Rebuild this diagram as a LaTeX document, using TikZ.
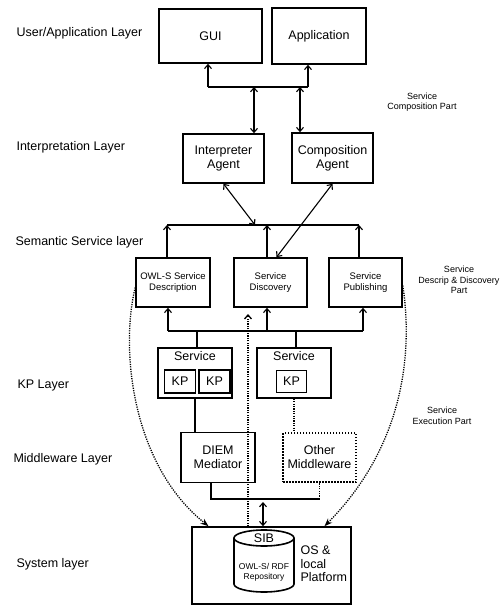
\documentclass[tikz,border=0pt]{standalone}
\usepackage{fontspec}
\setmainfont{Liberation Sans}
\usetikzlibrary{arrows.meta,positioning}

\begin{document}
\begin{tikzpicture}[x=1pt,y=-1pt,>={Straight Barb[length=4pt,width=7pt]},line width=1.1pt]
\tikzstyle{box} = [rectangle, draw, line width=1.6pt, inner sep=0pt, align=center, font=\fontsize{12.5}{14}\selectfont]
\tikzstyle{sbox} = [box, font=\fontsize{9.5}{11}\selectfont]
\tikzstyle{layer} = [anchor=west, inner sep=0pt, font=\fontsize{12.5}{14}\selectfont]
\tikzstyle{txt} = [inner sep=0pt, align=center, font=\fontsize{12.5}{13.5}\selectfont]
\tikzstyle{part} = [inner sep=0pt, align=center, font=\fontsize{9}{10.5}\selectfont]
\tikzstyle{link} = [dash pattern=on 1.2pt off 1.2pt, line width=1.3pt]
\tikzstyle{dotarrow} = [link, -{Stealth[length=8pt,width=6pt]}]
\useasboundingbox (0,0) rectangle (502,605);

% layer names
\node[layer] (L1) at (16,33) {User/Application Layer};
\node[layer] (L2) at (16,147) {Interpretation Layer};
\node[layer] (L3) at (15,242) {Semantic Service layer};
\node[layer] (L4) at (17,385) {KP Layer};
\node[layer] (L5) at (13,459) {Middleware Layer};
\node[layer] (L6) at (16,564) {System layer};

% parts
\node[part] (P1) at (422,102) {Service\\Composition Part};
\node[part] (P2) at (459,280) {Service\\Descrip \& Discovery\\Part};
\node[part] (P3) at (442,416) {Service\\Execution Part};

% boxes
\node[box, minimum width=103pt, minimum height=54pt] (GUI) at (210.5,36) {GUI};
\node[box, minimum width=94pt, minimum height=56pt] (APP) at (319,36) {Application};
\node[box, minimum width=81pt, minimum height=49pt] (INT) at (223.5,158.5) {Interpreter\\Agent};
\node[box, minimum width=81pt, minimum height=50pt] (COMP) at (332.5,158) {Composition\\Agent};
\node[sbox, minimum width=74pt, minimum height=49pt] (OWL) at (173,282.5) {OWL-S Service\\Description};
\node[sbox, minimum width=73pt, minimum height=49pt] (DISC) at (270.5,282.5) {Service\\Discovery};
\node[sbox, minimum width=73pt, minimum height=49pt] (PUB) at (365.5,282.5) {Service\\Publishing};
\node[box, minimum width=74pt, minimum height=50pt] (SERV1) at (195,373) {};
\node[txt, below=4pt of SERV1.north] (SERV1t) {Service};
\node[box, minimum width=31pt, minimum height=23pt] (KP1) at (180,381.5) {KP};
\node[box, minimum width=31pt, minimum height=23pt] (KP2) at (214.5,381.5) {KP};
\node[box, minimum width=74pt, minimum height=50pt] (SERV2) at (294,373) {};
\node[txt, below=4pt of SERV2.north] (SERV2t) {Service};
\node[box, minimum width=30pt, minimum height=22pt] (KP3) at (291.5,381.5) {KP};
\node[box, minimum width=74pt, minimum height=50pt] (DIEM) at (218,457.5) {DIEM\\Mediator};
\node[box, dash pattern=on 1.5pt off 1.5pt, minimum width=73pt, minimum height=49pt] (OTHER) at (319.5,457.5) {Other\\Middleware};
\node[box, minimum width=159pt, minimum height=77pt] (SYS) at (271.5,565.5) {};

% SIB repository
\draw[line width=1.6pt] (234,538) -- (234,584) arc[start angle=180,end angle=360,x radius=30pt,y radius=8pt] -- (294,538);
\draw[line width=1.6pt] (264,538) ellipse [x radius=30pt, y radius=8pt];
\node[txt] (SIB) at (264,538) {SIB};
\node[part, font=\fontsize{8.5}{10}\selectfont] (REPO) at (264,572) {OWL-S/ RDF\\Repository};
\node[txt, anchor=west, align=left] (OS) at (300,564) {OS \&\\local\\Platform};

% upper bus
\coordinate (B1l) at (208,87);
\coordinate (B1r) at (308,87);
\coordinate (B1a) at (254,87);
\coordinate (B1b) at (300,87);
\draw (B1l) -- (B1r);
\draw[->] (B1l) -- (B1l |- GUI.south);
\draw[->] (B1r) -- (B1r |- APP.south);
\draw[<->] (B1a) -- (B1a |- INT.north);
\draw[<->] (B1b) -- (B1b |- COMP.north);

% semantic bus
\coordinate (B2l) at (167,225);
\coordinate (B2m) at (255,225);
\coordinate (B2c) at (267,225);
\coordinate (B2r) at (359,225);
\draw (B2l) -- (B2r);
\draw[->] (B2l |- OWL.north) -- (B2l);
\draw[->] (B2c |- DISC.north) -- (B2c);
\draw[->] (B2r |- PUB.north) -- (B2r);
\draw[<->] (INT.south) -- (B2m);
\draw[<->] (COMP.south) -- ([xshift=6pt]DISC.north);

% KP bus
\coordinate (B3l) at (168,331);
\coordinate (B3c) at (267,331);
\coordinate (B3r) at (363,331);
\coordinate (B3a) at (197,331);
\coordinate (B3b) at (296,331);
\draw (B3l) -- (B3r);
\draw[->] (B3l) -- (B3l |- OWL.south);
\draw[->] (B3c) -- (B3c |- DISC.south);
\draw[->] (B3r) -- (B3r |- PUB.south);
\draw (B3a) -- (B3a |- SERV1.north);
\draw (B3b) -- (B3b |- SERV2.north);
\draw (SERV1.south) -- (SERV1.south |- DIEM.north);
\draw[link] (SERV2.south) -- (SERV2.south |- OTHER.north);

% middleware bus
\coordinate (B4l) at (211,499);
\coordinate (B4r) at (319.5,499);
\coordinate (B4m) at (263,499);
\draw (B4l |- DIEM.south) -- (B4l) -- (B4r);
\draw[link] (B4r) -- (OTHER.south);
\draw[<->] ([yshift=-3pt]B4m) -- (B4m |- SYS.north);

% dotted links
\coordinate (D1) at (248,314);
\draw[link,->] (D1 |- SYS.north) -- (D1);
\draw[dotarrow] ([yshift=-5pt]OWL.west) .. controls (120,350) and (132,465) .. ([xshift=-63pt]SYS.north);
\draw[dotarrow] ([yshift=-3pt]PUB.east) .. controls (414,360) and (400,450) .. ([xshift=53pt]SYS.north);
\end{tikzpicture}
\end{document}
